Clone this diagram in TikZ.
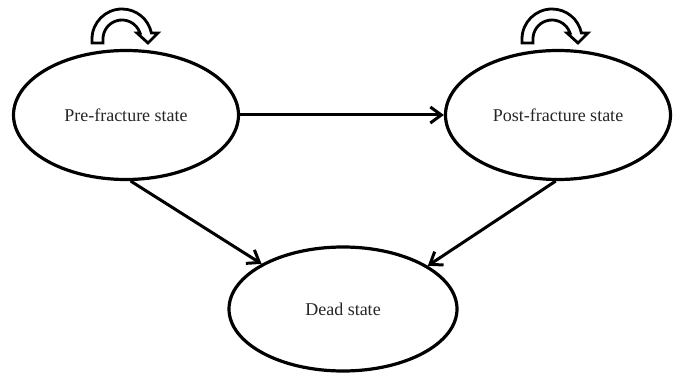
\documentclass[tikz,border=0pt]{standalone}
\usepackage{fontspec}
\setmainfont{Liberation Serif}
\usetikzlibrary{shapes.geometric,arrows.meta,calc}
\begin{document}
\begin{tikzpicture}[x=1pt,y=1pt,
  statenode/.style={ellipse,draw=black,line width=3.2pt,inner sep=0pt,
    font=\fontsize{18}{20}\selectfont,text=black!85},
  conn/.style={line width=3pt,-{Straight Barb[length=11pt,width=16pt,line width=3pt]}},
  loopband/.style={draw=black,fill=white,line width=2.8pt,line join=miter}]
\useasboundingbox (0,0) rectangle (673,373);
\node[statenode,minimum width=225pt,minimum height=129pt] (pre) at (126,258) {Pre-fracture state};
\node[statenode,minimum width=225pt,minimum height=129pt] (post) at (558,258) {Post-fracture state};
\node[statenode,minimum width=228pt,minimum height=124pt] (dead) at (343,64) {Dead state};
\draw[conn] (pre.east) -- (post.west);
\draw[conn] (pre.-86) -- (dead.151.5);
\draw[conn] (post.-92) -- (dead.27.4);
% self loops
\foreach \cx/\nm in {122/preloop,552/postloop}{
  \coordinate (\nm) at (\cx,334);
  \draw[loopband] ($(\nm)+(-30,-4)$) -- ($(\nm)+(-30,0)$)
    arc[start angle=180,end angle=11.5,radius=30]
    -- ($(\nm)+(36,6)$) -- ($(\nm)+(26,-4)$) -- ($(\nm)+(15,6)$)
    -- ($(\nm)+(18,6)$)
    arc[start angle=18.4,end angle=180,radius=19]
    -- ($(\nm)+(-19,-4)$) -- cycle;
}
\end{tikzpicture}
\end{document}
